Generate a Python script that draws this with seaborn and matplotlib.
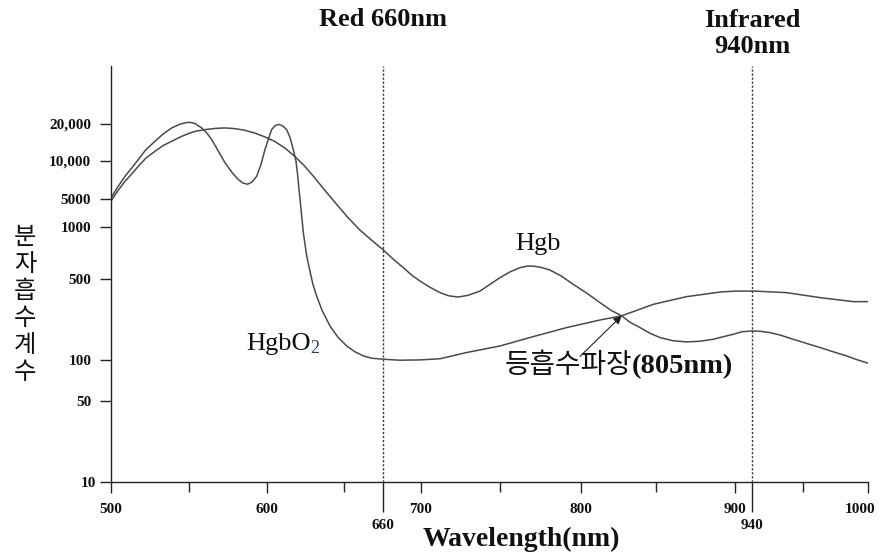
import numpy as np
import pandas as pd
import matplotlib
matplotlib.use("Agg")
import matplotlib.pyplot as plt
import matplotlib.transforms as mtransforms
from matplotlib.ticker import NullLocator
import seaborn as sns

# Molar absorption coefficient of oxy- and deoxy-haemoglobin vs. wavelength (nm)
wl_hbo2 = [500, 504.7, 509.2, 513.7, 517.7, 522.6, 528.4, 533.5, 539.1, 544.4,
           548.3, 550.8, 554.0, 558.3, 561.7, 564.7, 568.8, 573.3, 577.8, 581.8,
           584.8, 587.8, 590.6, 593.6, 596.3, 598.9, 601.2, 603.2, 605.4, 608.0,
           610.5, 612.9, 615.1, 617.2, 619.0, 620.1, 620.9, 621.9, 622.8, 623.7,
           624.8, 625.9, 628.0, 629.9, 632.3, 635.8, 640.9, 646.1, 650.7, 652.8,
           655.0, 657.2, 660.6, 678.2, 699.3, 712.2, 729.0, 750, 770.6, 791.3,
           812.8, 827.2, 848.2, 869.5, 890.7, 900, 940.3, 946.8, 963.2, 988.6,
           1000]
eps_hbo2 = [5000, 6223, 7510, 8803, 10190, 12290, 14360, 16430, 18450, 19810,
            20380, 20500, 20070, 18450, 16740, 14830, 12060, 9590, 8035, 7070,
            6633, 6490, 6755, 7510, 9296, 12290, 15100, 17870, 19260, 19740,
            19090, 17870, 15390, 12290, 9820, 7510, 5892, 3584, 1648, 932,
            797, 682, 556, 453, 359, 270, 198, 158, 132.8, 118.4,
            108.9, 104, 102, 100, 100.6, 103, 116.6, 132.8, 160, 191.5,
            222.7, 242, 304.2, 354.6, 388.5, 395.6, 396.3, 384, 347.6, 321,
            321]

wl_hb = [500, 504.7, 509.2, 513.7, 517.7, 522.6, 528.4, 533.5, 539.1, 544.4,
         549.7, 554.7, 560.4, 566.9, 573.3, 579.7, 586.1, 592.5, 598.9, 605.4,
         611.8, 618.3, 624.8, 630.1, 637.7, 645.3, 651.0, 654.1, 657.2, 660.6,
         670.8, 681.7, 690.8, 699.3, 705.9, 712.2, 717.8, 723.7, 729.8, 737.4,
         743.7, 750, 756.2, 762.4, 766.7, 770.6, 775.4, 781.0, 787.8, 795.4,
         804.2, 812.8, 820.1, 827.2, 832.7, 839.4, 846.0, 852.5, 860.8, 869.5,
         878.0, 886.4, 892.6, 899.1, 916.9, 939.3, 941.6, 943.5, 945.7, 948.1,
         952.5, 963.2, 973.1, 983.5, 991.4, 1000]
eps_hb = [4233, 5787, 6855, 7888, 9016, 10480, 11900, 13240, 14360, 15530,
          16580, 17380, 17870, 18280, 18450, 18210, 17640, 16740, 15590, 14280,
          12640, 10780, 8966, 7539, 5787, 3584, 1742, 967, 841, 741,
          657, 584.5, 527.5, 483.5, 426.6, 383.9, 360.2, 351.7, 363.9, 396.3,
          452.9, 511.5, 552.6, 584.5, 596.5, 597, 586.9, 566, 524, 452.9,
          378.6, 314.7, 270, 242, 212.8, 191.5, 171, 157, 147.3, 143.9,
          145.9, 151.8, 159.5, 167.6, 176.2, 179, 178, 173.4, 164.3, 151.8,
          140.2, 128.7, 118.4, 108.9, 101, 95]

x_ticks = [500, 600, 700, 800, 900, 1000]
x_minor = [550, 650, 750, 850, 950]
marker_wl = [660, 940]
y_ticks = [10, 50, 100, 500, 1000, 5000, 10000, 20000]
y_ticklabels = ["10", "50", "100", "500", "1000", "5000", "10,000", "20,000"]
isosbestic = (827.2, 242)

# The axes of this diagram are drawn by hand: each labelled value sits at its
# own spacing, so both axes use a piecewise scale through those nodes.
x_nodes = [500, 550, 600, 650, 660, 700, 750, 800, 850, 900, 940, 950, 1000]
x_space = [0, 78, 156, 233.3, 272, 310, 389.3, 470, 545.3, 624, 641.3, 692, 757.6]
y_nodes = [10, 50, 100, 500, 1000, 5000, 10000, 20000]
y_space = [0, 81, 122, 203, 255, 284, 322, 359]


def piecewise_scale(nodes, spacing, log=False):
    xp = np.log10(nodes) if log else np.asarray(nodes, float)
    fp = np.asarray(spacing, float)
    s_lo = (fp[1] - fp[0]) / (xp[1] - xp[0])
    s_hi = (fp[-1] - fp[-2]) / (xp[-1] - xp[-2])

    def forward(v):
        v = np.asarray(v, float)
        with np.errstate(divide="ignore", invalid="ignore"):
            t = np.log10(v) if log else v
        out = np.interp(t, xp, fp)
        out = np.where(t < xp[0], fp[0] + (t - xp[0]) * s_lo, out)
        out = np.where(t > xp[-1], fp[-1] + (t - xp[-1]) * s_hi, out)
        return out

    def inverse(p):
        p = np.asarray(p, float)
        t = np.interp(p, fp, xp)
        t = np.where(p < fp[0], xp[0] + (p - fp[0]) / s_lo, t)
        t = np.where(p > fp[-1], xp[-1] + (p - fp[-1]) / s_hi, t)
        return 10 ** t if log else t

    return forward, inverse


sns.set_theme(style="white")
plt.rcParams["font.family"] = ["Liberation Serif", "Noto Sans CJK KR", "DejaVu Sans"]
plt.rcParams["axes.unicode_minus"] = False

LINE = "#4a4a4a"
INK = "#111111"
KR = ["Noto Sans CJK KR", "DejaVu Sans"]

fig = plt.figure(figsize=(8.8, 5.54), dpi=100)
ax = fig.add_axes([110.7 / 880, 72 / 554, 757.6 / 880, 416 / 554])

fx = piecewise_scale(x_nodes, x_space)
fy = piecewise_scale(y_nodes, y_space, log=True)
ax.set_xscale("function", functions=fx)
ax.set_yscale("function", functions=fy)

df_hbo2 = pd.DataFrame({"wavelength": wl_hbo2, "epsilon": eps_hbo2})
df_hb = pd.DataFrame({"wavelength": wl_hb, "epsilon": eps_hb})
sns.lineplot(data=df_hbo2, x="wavelength", y="epsilon", color=LINE, lw=1.1, ax=ax)
sns.lineplot(data=df_hb, x="wavelength", y="epsilon", color=LINE, lw=1.1, ax=ax)

ax.set_xlim(500, 1000)
ax.set_ylim(10, 59000)

for wl in marker_wl:
    ax.axvline(wl, color="#3a3a3a", lw=1.0, ls=(0, (1.6, 1.3)), zorder=1)

# axes, ticks
for side in ("top", "right"):
    ax.spines[side].set_visible(False)
for side in ("left", "bottom"):
    ax.spines[side].set_color("#222222")
    ax.spines[side].set_linewidth(1.0)

ax.set_xticks(x_ticks)
ax.set_xticklabels([str(v) for v in x_ticks])
ax.set_xticks(x_minor, minor=True)
ax.set_yticks(y_ticks)
ax.set_yticklabels(y_ticklabels)
ax.yaxis.set_minor_locator(NullLocator())
ax.tick_params(axis="x", which="major", direction="out", length=8, width=1,
               color="#222222", pad=7, labelsize=11, labelcolor=INK)
ax.tick_params(axis="x", which="minor", direction="out", length=7, width=1,
               color="#222222")
ax.tick_params(axis="y", direction="out", length=8, width=1, color="#222222",
               pad=6, labelsize=11, labelcolor=INK)
ax.tick_params(left=True, bottom=True, which="both")
for lab in ax.get_xticklabels() + ax.get_yticklabels():
    lab.set_fontweight("bold")
# keep the last wavelength label inside the canvas
last = ax.get_xticklabels()[-1]
last.set_transform(last.get_transform()
                   + mtransforms.ScaledTranslation(-6 / 72, 0, fig.dpi_scale_trans))
# the lowest value label sits a little closer to the axis corner
first = ax.get_yticklabels()[0]
first.set_transform(first.get_transform()
                    + mtransforms.ScaledTranslation(3.5 / 72, 0, fig.dpi_scale_trans))

# long ticks for the two LED wavelengths
ax2 = ax.twiny()
ax2.set_xscale("function", functions=fx)
ax2.set_xlim(ax.get_xlim())
ax2.xaxis.set_ticks_position("bottom")
ax2.set_xticks(marker_wl)
ax2.set_xticklabels([str(v) for v in marker_wl])
ax2.xaxis.set_minor_locator(NullLocator())
ax2.tick_params(axis="x", direction="out", length=21.4, width=1,
                color="#222222", pad=5, labelsize=11, labelcolor=INK,
                top=False, bottom=True)
for lab in ax2.get_xticklabels():
    lab.set_fontweight("bold")
for s in ax2.spines.values():
    s.set_visible(False)

# axis labels
ax.set_xlabel("Wavelength(nm)", fontsize=20, fontweight="bold", color=INK)
ax.xaxis.set_label_coords(0.5416, -0.139)
ax.xaxis.label.set_va("center")
ax.set_ylabel("\n".join("분자흡수계수"), rotation=0, fontsize=17.5, family=KR,
              linespacing=1.05, color=INK, ha="center", va="center")
ax.yaxis.set_label_coords(-0.1131, 0.4255)

# headings over the two wavelengths
top = mtransforms.blended_transform_factory(ax.transData, ax.transAxes)
ax.text(660, 1.1106, "Red 660nm", transform=top, ha="center", va="center",
        fontsize=19, fontweight="bold", color=INK)
ax.text(940, 1.078, "Infrared\n940nm", transform=top, ha="center", va="center",
        fontsize=19, fontweight="bold", color=INK, linespacing=1.15)

# curve labels
ax.text(773.5, 797, "Hgb", ha="center", va="center", fontsize=19, color=INK)
t_o2 = ax.text(586.7, 137.4, "HgbO", ha="left", va="center", fontsize=19,
               color=INK)
ax.annotate("2", xy=(1, 0), xycoords=t_o2, xytext=(0, -1.5),
            textcoords="offset points", ha="left", va="bottom", fontsize=13,
            color="#1f3b6b")

# isosbestic point
ax.annotate("", xy=isosbestic, xytext=(799.6, 108),
            arrowprops=dict(arrowstyle="-|>", color="#222222", lw=0.8,
                            mutation_scale=12, shrinkA=0, shrinkB=0))
ax.text(834, 80, "등흡수파장", ha="right", va="baseline", fontsize=20,
        family=KR, color=INK)
ax.text(834, 80, "(805nm)", ha="left", va="baseline", fontsize=20.5,
        fontweight="bold", color=INK)

fig.savefig("out.png", dpi=100)
